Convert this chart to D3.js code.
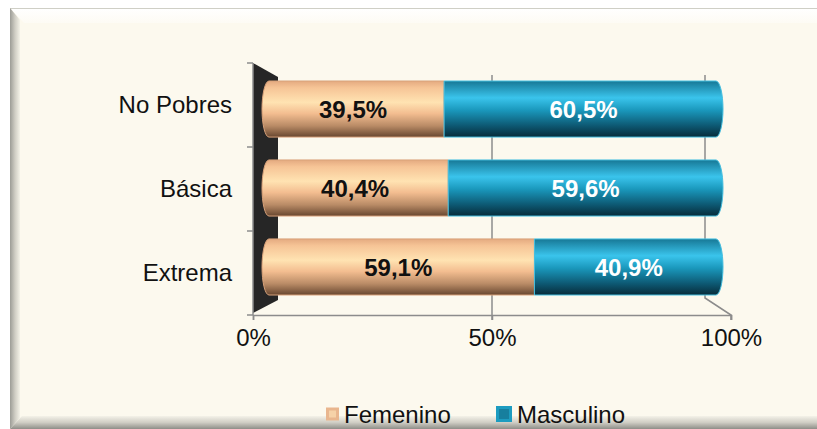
<!DOCTYPE html>
<html>
<head>
<meta charset="utf-8">
<script src="https://cdn.jsdelivr.net/npm/d3@7"></script>
<style>
  body { margin: 0; background: #fff; }
  svg { display: block; font-family: "Liberation Sans", Arial, sans-serif; }
</style>
</head>
<body>
<div id="chart"></div>
<script>
// data
const categories = ["No Pobres", "Básica", "Extrema"];
const femenino = [39.5, 40.4, 59.1];
const masculino = [60.5, 59.6, 40.9];
const seriesNames = ["Femenino", "Masculino"];
const tickValues = [0, 50, 100];

const width = 817, height = 429;
const svg = d3.select("#chart").append("svg")
    .attr("width", width).attr("height", height);
const defs = svg.append("defs");

// gradients
function grad(id, stops, x2, y2) {
    const g = defs.append("linearGradient").attr("id", id)
        .attr("x1", 0).attr("y1", 0).attr("x2", x2).attr("y2", y2);
    stops.forEach(s => g.append("stop").attr("offset", s[0]).attr("stop-color", s[1]));
}
grad("gFem", [[0, "#e4aa80"], [0.12, "#f6c496"], [0.38, "#ffe3b2"], [0.58, "#f3bd90"], [0.8, "#b98b66"], [1, "#684730"]], 0, 1);
grad("gMas", [[0, "#177896"], [0.3, "#3ac4ec"], [0.52, "#1a98bc"], [0.8, "#0d5872"], [1, "#072c3a"]], 0, 1);
grad("gLeft", [[0, "#9c9c96"], [0.5, "#cfcdc4"], [1, "#f4f2e8"]], 1, 0);
grad("gBottom", [[0, "#f4f2e8"], [0.5, "#cfcdc4"], [1, "#8e8e88"]], 0, 1);
grad("gTop", [[0, "#ffffff"], [1, "#fdfbf4"]], 0, 1);

// frame
svg.append("rect").attr("x", 10).attr("y", 8).attr("width", width).attr("height", height)
    .attr("fill", "#fcf9ee");
svg.append("path").attr("d", "M10,8 L817,8 L817,23 L24,23 Z").attr("fill", "url(#gTop)");
svg.append("line").attr("x1", 10).attr("x2", 817).attr("y1", 8.5).attr("y2", 8.5)
    .attr("stroke", "#cfcfc6");
svg.append("path").attr("d", "M10,8 L20,20 L20,418 L10,429 Z").attr("fill", "url(#gLeft)");
svg.append("path").attr("d", "M10,429 L22,416 L817,416 L817,429 Z").attr("fill", "url(#gBottom)");

// scales
const xFront = d3.scaleLinear().domain([0, 100]).range([253, 731]);
const xBar = d3.scaleLinear().domain([0, 100]).range([262, 723]);
const yCat = d3.scaleBand().domain(categories).range([63, 315]);
const yBar = d3.scaleBand().domain(categories).range([81, 295]).paddingInner(0.29);

const gridColor = "#8c8c8c";
const depth = 26;

// left wall
svg.append("path")
    .attr("d", `M253,63 L278,77 L278,300 L253,${yCat.range()[1] - 2} Z`)
    .attr("fill", "#262626");

// gridlines / back wall lines
svg.append("line")
    .attr("x1", xFront(50)).attr("x2", xFront(50))
    .attr("y1", 75).attr("y2", 320)
    .attr("stroke", gridColor).attr("stroke-width", 1.5);
svg.append("path")
    .attr("d", `M${xFront(100) - depth},75 L${xFront(100) - depth},298 L${xFront(100)},315 L${xFront(100)},320`)
    .attr("fill", "none").attr("stroke", gridColor).attr("stroke-width", 1.5);

// x axis (floor front edge)
const xAxis = svg.append("g").attr("transform", "translate(0,315)")
    .call(d3.axisBottom(xFront).tickValues(tickValues).tickSize(5)
        .tickFormat(d => d + "%"));
xAxis.select(".domain").attr("stroke", gridColor).attr("stroke-width", 1.5);
xAxis.selectAll(".tick line").attr("stroke", gridColor).attr("stroke-width", 1.5);
xAxis.selectAll(".tick text").attr("font-size", 24).attr("fill", "#111")
    .attr("font-family", "Liberation Sans, Arial, sans-serif").attr("dy", "0.95em");

// y axis
const yAxis = svg.append("g").attr("transform", "translate(253,0)");
yAxis.append("line").attr("y1", 63).attr("y2", 315)
    .attr("stroke", gridColor).attr("stroke-width", 1.5);
const bounds = categories.map(c => yCat(c)).concat([yCat.range()[1]]);
yAxis.selectAll("line.tk").data(bounds).join("line").attr("class", "tk")
    .attr("x1", -6).attr("x2", 0).attr("y1", d => d).attr("y2", d => d)
    .attr("stroke", gridColor).attr("stroke-width", 1.5);
yAxis.selectAll("text").data(categories).join("text")
    .attr("x", -21).attr("y", d => yCat(d) + yCat.bandwidth() / 2)
    .attr("dy", "0.35em").attr("text-anchor", "end")
    .attr("font-size", 24).attr("fill", "#111").text(d => d);

// stacked bars
const rows = categories.map((c, i) => ({ cat: c, Femenino: femenino[i], Masculino: masculino[i] }));
const stacked = d3.stack().keys(seriesNames)(rows);
const fills = { Femenino: "url(#gFem)", Masculino: "url(#gMas)" };
const edges = { Femenino: "#d9a27a", Masculino: "#45bfe0" };

function cyl(x0, x1, y, h, leftCap, rightCap) {
    const r = 7, ry = h / 2;
    let d = leftCap ? `M${x0 + r},${y}` : `M${x0},${y}`;
    d += ` L${rightCap ? x1 - r : x1},${y}`;
    d += rightCap ? ` A${r},${ry} 0 0 1 ${x1 - r},${y + h}` : ` L${x1},${y + h}`;
    d += ` L${leftCap ? x0 + r : x0},${y + h}`;
    d += leftCap ? ` A${r},${ry} 0 0 1 ${x0 + r},${y}` : ` L${x0},${y}`;
    return d + " Z";
}

stacked.forEach((layer, li) => {
    const key = layer.key;
    const g = svg.append("g");
    g.selectAll("path").data(layer).join("path")
        .attr("d", d => cyl(xBar(d[0]), xBar(d[1]), yBar(d.data.cat), yBar.bandwidth(), li === 0, li === stacked.length - 1))
        .attr("fill", fills[key]).attr("stroke", edges[key]).attr("stroke-width", 1);
    g.selectAll("text").data(layer).join("text")
        .attr("x", d => (xBar(d[0]) + xBar(d[1])) / 2)
        .attr("y", d => yBar(d.data.cat) + yBar.bandwidth() / 2)
        .attr("dy", "0.36em").attr("text-anchor", "middle")
        .attr("font-size", 24).attr("font-weight", "bold")
        .attr("fill", key === "Femenino" ? "#111" : "#fff")
        .text(d => d3.format(".1f")(d[1] - d[0]).replace(".", ",") + "%");
});

// legend
const legend = svg.append("g");
const legendItems = [
    { name: "Femenino", x: 326, size: 13, fill: "#e9b68e", inner: "#f6d2a8" },
    { name: "Masculino", x: 496, size: 16, fill: "#1d9cc0", inner: "#177f9e" }
];
legendItems.forEach(it => {
    legend.append("rect").attr("x", it.x).attr("y", 414 - it.size / 2)
        .attr("width", it.size).attr("height", it.size).attr("fill", it.fill);
    legend.append("rect").attr("x", it.x + 3).attr("y", 414 - it.size / 2 + 3)
        .attr("width", it.size - 6).attr("height", it.size - 6).attr("fill", it.inner);
    legend.append("text").attr("x", it.x + it.size + 5).attr("y", 423)
        .attr("font-size", 24).attr("fill", "#111").text(it.name);
});
</script>
</body>
</html>
